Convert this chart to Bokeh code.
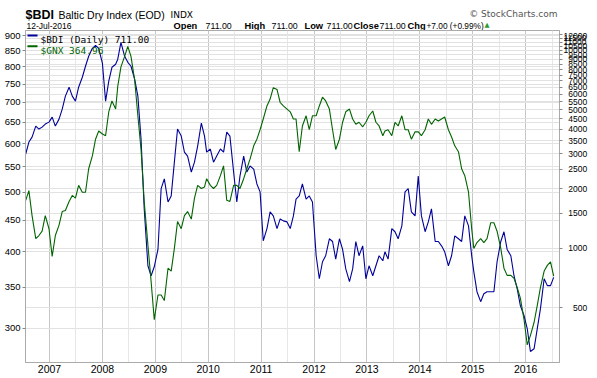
from bokeh.plotting import figure
from bokeh.layouts import column
from bokeh.models import (Range1d, LogAxis, LogScale, FixedTicker, Label, Grid,
                          PrintfTickFormatter, BoxAnnotation)
from bokeh.embed import file_html
from bokeh.resources import INLINE

# ---------------- data ----------------
YEARS = [
    2006.55, 2006.61, 2006.67, 2006.74, 2006.80, 2006.86, 2006.92, 2006.99, 2007.05, 2007.11,
    2007.18, 2007.24, 2007.30, 2007.37, 2007.43, 2007.49, 2007.55, 2007.62, 2007.68, 2007.74,
    2007.81, 2007.87, 2007.93, 2008.00, 2008.06, 2008.12, 2008.18, 2008.25,
    2008.29, 2008.35, 2008.42, 2008.48, 2008.54, 2008.61, 2008.67, 2008.73, 2008.79, 2008.86,
    2008.92, 2008.98, 2009.05, 2009.11, 2009.17, 2009.24, 2009.30, 2009.36, 2009.42, 2009.49,
    2009.55, 2009.61, 2009.68, 2009.74, 2009.80, 2009.87, 2009.93,
    2009.97, 2010.04, 2010.10, 2010.16, 2010.23, 2010.29, 2010.35, 2010.41, 2010.48, 2010.54,
    2010.60, 2010.67, 2010.73, 2010.79, 2010.86, 2010.92, 2010.98, 2011.04, 2011.11, 2011.17,
    2011.23, 2011.30, 2011.36, 2011.42, 2011.49, 2011.55, 2011.61,
    2011.66, 2011.72, 2011.78, 2011.85, 2011.91, 2011.97, 2012.04, 2012.10, 2012.16, 2012.22,
    2012.29, 2012.35, 2012.41, 2012.48, 2012.54, 2012.60, 2012.67, 2012.73, 2012.79, 2012.85,
    2012.92, 2012.98, 2013.04, 2013.11, 2013.17, 2013.23, 2013.30,
    2013.34, 2013.40, 2013.47, 2013.53, 2013.59, 2013.66, 2013.72, 2013.78, 2013.84, 2013.91,
    2013.97, 2014.03, 2014.10, 2014.16, 2014.22, 2014.29, 2014.35, 2014.41, 2014.47, 2014.54,
    2014.60, 2014.66, 2014.73, 2014.79, 2014.85, 2014.92, 2014.98,
    2015.02, 2015.08, 2015.15, 2015.21, 2015.27, 2015.34, 2015.40, 2015.46, 2015.53, 2015.59,
    2015.65, 2015.72, 2015.78, 2015.84, 2015.90, 2015.97, 2016.03, 2016.09, 2016.16, 2016.22,
    2016.28, 2016.35, 2016.41, 2016.47, 2016.53,
]

BDI = [
    2991, 3437, 3640, 4139, 4000, 4090, 4240, 4336, 4595, 4139,
    4490, 5040, 5866, 6512, 5866, 5534, 6512, 7310, 8310, 9333,
    10240, 10600, 10240, 8600, 5534, 6982, 8210, 8510,
    9020, 10980, 9333, 8700, 8310, 7140, 5866, 3560, 1580, 814,
    725, 805, 985, 2000, 2240, 1710, 1836, 2720, 4000, 3685,
    3060, 2921, 2425, 2720, 3281, 4290, 3685,
    3060, 3170, 2720, 2921, 3170, 3060, 3860, 3685, 2425, 1710,
    2316, 2921, 2425, 2601, 2510, 2110, 1925, 1089, 1255, 1525,
    1455, 1255, 1405, 1373, 1357, 1255, 1455,
    1770, 1836, 2110, 1770, 1836, 1710, 915, 700, 853, 915,
    1115, 1080, 880, 1115, 985, 785, 677, 785, 1080, 915,
    1027, 700, 814, 725, 814, 915, 863,
    958, 880, 1255, 1210, 1115, 1296, 1925, 2000, 1525, 1455,
    2316, 1455, 1210, 1357, 1580, 1080, 1080, 1027, 958, 814,
    915, 1154, 1115, 1080, 1455, 1296, 915,
    760, 602, 536, 588, 602, 602, 602, 853, 1080, 1210,
    985, 915, 725, 623, 512, 455, 392, 300, 310, 392,
    494, 700, 646, 646, 711,
]

GNX = [
    485, 503, 458, 420, 425, 432, 458, 436, 393, 425,
    442, 465, 467, 483, 494, 489, 513, 500, 500, 546,
    573, 610, 629, 622, 618, 676, 704, 683,
    744, 800, 832, 864, 832, 761, 666, 587, 483, 410,
    358, 310, 340, 340, 333, 376, 372, 405, 448, 436,
    458, 465, 452, 489, 513, 507, 510,
    526, 513, 507, 513, 532, 552, 485, 483, 513, 513,
    507, 526, 546, 566, 595, 610, 632, 658, 691, 709,
    740, 735, 700, 691, 683, 676, 658,
    658, 582, 641, 666, 632, 666, 666, 691, 714, 704,
    683, 632, 587, 610, 650, 676, 683, 658, 645, 650,
    639, 650, 666, 678, 650, 641, 618,
    629, 632, 618, 650, 641, 666, 632, 632, 610, 627,
    627, 618, 632, 658, 645, 658, 653, 658, 663, 632,
    615, 595, 582, 546, 532, 500, 436,
    405, 414, 420, 414, 420, 446, 446, 432, 405, 376,
    366, 366, 362, 350, 336, 310, 282, 292, 307, 327,
    350, 372, 380, 385, 365,
]

YEAR_TICKS = [2007, 2008, 2009, 2010, 2011, 2012, 2013, 2014, 2015, 2016]
MID_TICKS = [2006.5, 2007.5, 2008.5, 2009.5, 2010.5, 2011.5, 2012.5, 2013.5, 2014.5, 2015.5, 2016.5]
LEFT_TICKS = [300, 350, 400, 450, 500, 550, 600, 650, 700, 750, 800, 850, 900]
RIGHT_TICKS = [500, 1000, 1500, 2000, 2500, 3000, 3500, 4000, 4500, 5000, 5500, 6000,
               6500, 7000, 7500, 8000, 8500, 9000, 9500, 10000, 10500, 11000, 11500, 12000]

BLUE = "#00009a"
GREEN = "#006400"
FONT = "Liberation Sans"

W = 597
HEAD_H = 30
MAIN_H = 348
FR_L, FR_R, FR_TOP, FR_BOT = 25, 559, 0, 16   # main frame borders (px)

# ---------------- header strip ----------------
hd = figure(width=W, height=HEAD_H, output_backend="svg", toolbar_location=None,
            title=None, x_range=Range1d(0, W), y_range=Range1d(0, HEAD_H),
            x_axis_location=None, y_axis_location=None,
            min_border_left=0, min_border_right=0, min_border_top=0, min_border_bottom=0)
hd.frame_align = False
hd.grid.visible = False
hd.outline_line_color = None
hd.background_fill_color = "white"
hd.border_fill_color = "white"


def hlab(text, X, Ybase, size, bold=False, color="black", font=FONT, align="left"):
    hd.add_layout(Label(x=X, y=HEAD_H - Ybase, text=text, text_font=font,
                        text_font_size=f"{size}px",
                        text_font_style="bold" if bold else "normal",
                        text_color=color, text_baseline="alphabetic", text_align=align))


hlab("$BDI", 25, 14.5, 12.5, bold=True)
hlab("Baltic Dry Index (EOD)", 58, 14.5, 10.5)
hlab("INDX", 170, 14.5, 9, font="DejaVu Sans")
hlab("12-Jul-2016", 26, 25.5, 8.5)
hlab("© StockCharts.com", 557, 13, 9, color="#555555", font="DejaVu Sans", align="right")
for t, X, b in [("Open", 173, True), ("711.00", 205, False), ("High", 244, True),
                ("711.00", 271, False), ("Low", 304, True), ("711.00", 326, False),
                ("Close", 353, True), ("711.00", 379, False), ("Chg", 407, True)]:
    hlab(t, X, 25.5, 9.3 if b else 8.8, bold=b)
hlab("+7.00 (+0.99%)", 426, 25.5, 8.3)
hlab("▲", 484, 24.5, 6.5, color="#2e9a2e", font="DejaVu Sans")

# ---------------- main chart ----------------
p = figure(width=W, height=MAIN_H, output_backend="svg", toolbar_location=None,
           title=None, x_range=Range1d(2006.546, 2016.64), y_range=Range1d(264, 917),
           y_axis_type="log",
           min_border_left=FR_L, min_border_right=W - FR_R,
           min_border_top=FR_TOP, min_border_bottom=FR_BOT)
p.frame_align = False
p.background_fill_color = "white"
p.border_fill_color = "white"
p.outline_line_color = "#aaaaaa"
p.outline_line_width = 1

# left axis (GNX)
ya = p.yaxis[0]
ya.ticker = FixedTicker(ticks=LEFT_TICKS)
ya.formatter = PrintfTickFormatter(format="%d")
ya.major_label_text_font = FONT
ya.major_label_text_font_size = "9.5px"
ya.major_label_text_color = "black"
ya.major_tick_out = 3
ya.major_tick_in = 0
ya.minor_tick_out = 0
ya.minor_tick_in = 0
ya.major_tick_line_color = "#888888"
ya.axis_line_color = "#aaaaaa"
ya.major_label_standoff = 2

# bottom axis
xa = p.xaxis[0]
xa.ticker = FixedTicker(ticks=YEAR_TICKS)
xa.formatter = PrintfTickFormatter(format="%d")
xa.major_label_text_font = FONT
xa.major_label_text_font_size = "10.5px"
xa.major_label_text_color = "black"
xa.major_tick_out = 0
xa.major_tick_in = 0
xa.minor_tick_out = 0
xa.minor_tick_in = 0
xa.axis_line_color = "#aaaaaa"
xa.major_label_standoff = 2

# right axis (BDI) -- labels right-aligned with figure spaces
p.extra_y_ranges = {"bdi": Range1d(264, 12600)}
p.extra_y_scales = {"bdi": LogScale()}
ra = LogAxis(y_range_name="bdi", ticker=FixedTicker(ticks=RIGHT_TICKS),
             formatter=PrintfTickFormatter(format="%d"))
ra.major_label_overrides = {t: str(t).rjust(5, "\u2007") for t in RIGHT_TICKS}
ra.major_label_text_font = FONT
ra.major_label_text_font_size = "8.5px"
ra.major_label_text_color = "black"
ra.major_tick_out = 3
ra.major_tick_in = 0
ra.minor_tick_out = 0
ra.minor_tick_in = 0
ra.major_tick_line_color = "#888888"
ra.axis_line_color = "#aaaaaa"
ra.major_label_standoff = 1
p.add_layout(ra, "right")

# grids
p.xgrid[0].ticker = FixedTicker(ticks=YEAR_TICKS)
p.xgrid[0].grid_line_color = "#c6c6c6"
p.ygrid[0].ticker = FixedTicker(ticks=LEFT_TICKS)
p.ygrid[0].grid_line_color = "#e2e2e2"
p.add_layout(Grid(dimension=0, ticker=FixedTicker(ticks=MID_TICKS),
                  grid_line_color="#e6e6e6"), "center")
p.add_layout(Grid(dimension=1, ticker=FixedTicker(ticks=RIGHT_TICKS), y_range_name="bdi",
                  grid_line_color="#e2e2e2"), "center")

# series
p.line(YEARS, BDI, y_range_name="bdi", line_color=BLUE, line_width=1.1)
p.line(YEARS, GNX, line_color=GREEN, line_width=1.1)

# legend inside the frame (screen units relative to the frame)
FH = MAIN_H - FR_BOT - FR_TOP   # frame height
for yc, col in [(5.0, BLUE), (15.8, GREEN)]:
    p.add_layout(BoxAnnotation(left=2, right=12, top=FH - yc + 1, bottom=FH - yc - 1,
                               left_units="screen", right_units="screen",
                               top_units="screen", bottom_units="screen",
                               fill_color=col, fill_alpha=1, line_alpha=0))
p.add_layout(Label(x=15, y=FH - 9.0, x_units="screen", y_units="screen",
                   text="$BDI (Daily) 711.00", text_font="DejaVu Sans Mono",
                   text_font_size="9.5px", text_color="black", text_baseline="alphabetic"))
p.add_layout(Label(x=15, y=FH - 19.8, x_units="screen", y_units="screen",
                   text="$GNX 364.96", text_font="DejaVu Sans Mono",
                   text_font_size="9.5px", text_color=GREEN, text_baseline="alphabetic"))

layout = column(hd, p, spacing=0)
open("out.html", "w").write(file_html(layout, INLINE))
